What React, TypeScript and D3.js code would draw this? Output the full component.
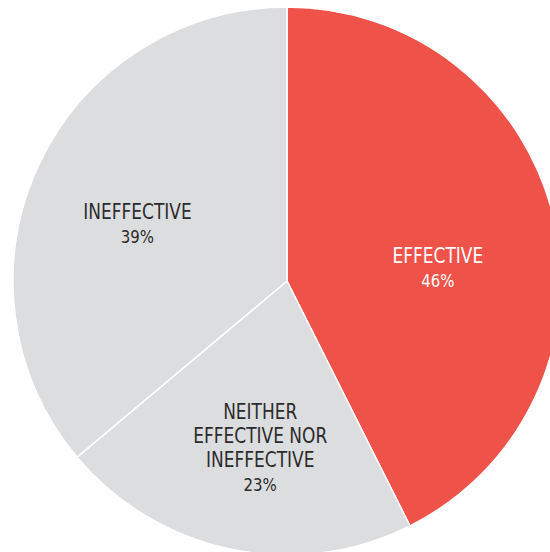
import React from "react";
import * as d3 from "d3";

const categories = ["EFFECTIVE", "NEITHER\nEFFECTIVE NOR\nINEFFECTIVE", "INEFFECTIVE"];
const values = [46, 23, 39];
const colors = ["#EF5249", "#DCDDDF", "#DCDDDF"];
const textColors = ["#ffffff", "#2b2b2b", "#2b2b2b"];

const W = 550;
const H = 552;
const cx = 287;
const cy = 281;
const R = 274;
const labelR = [155, 172, 165];
const labelShift: [number, number][] = [
  [0, 29.5],
  [8, 5.6],
  [0, 20],
];

export default function App() {
  const pie = d3.pie<number>().sort(null).value((d) => d);
  const arcs = pie(values);
  const arc = d3.arc<d3.PieArcDatum<number>>().innerRadius(0).outerRadius(R);
  const lineH = 24;
  return (
    <svg
      width={W}
      height={H}
      style={{ position: "absolute", left: 0, top: 0, background: "#fff" }}
      fontFamily="'DejaVu Sans Condensed', 'DejaVu Sans', sans-serif"
    >
      <g transform={`translate(${cx},${cy})`}>
        {arcs.map((a, i) => (
          <path key={i} d={arc(a) || ""} fill={colors[i]} stroke="#fff" strokeWidth={1.5} />
        ))}
        {arcs.map((a, i) => {
          const la = d3.arc<d3.PieArcDatum<number>>().innerRadius(labelR[i]).outerRadius(labelR[i]);
          const [x, y] = la.centroid(a);
          const lines = categories[i].split("\n").concat([`${values[i]}%`]);
          const x0 = x + labelShift[i][0];
          const y0 = y + labelShift[i][1] - ((lines.length - 1) * lineH) / 2;
          return (
            <text
              key={i}
              textAnchor="middle"
              fill={textColors[i]}
              transform={`translate(${x0},${y0}) scale(0.9,1)`}
            >
              {lines.map((l, j) => (
                <tspan key={j} x={0} y={j * lineH} fontSize={j === lines.length - 1 ? 18.5 : 21}>
                  {l}
                </tspan>
              ))}
            </text>
          );
        })}
      </g>
    </svg>
  );
}
